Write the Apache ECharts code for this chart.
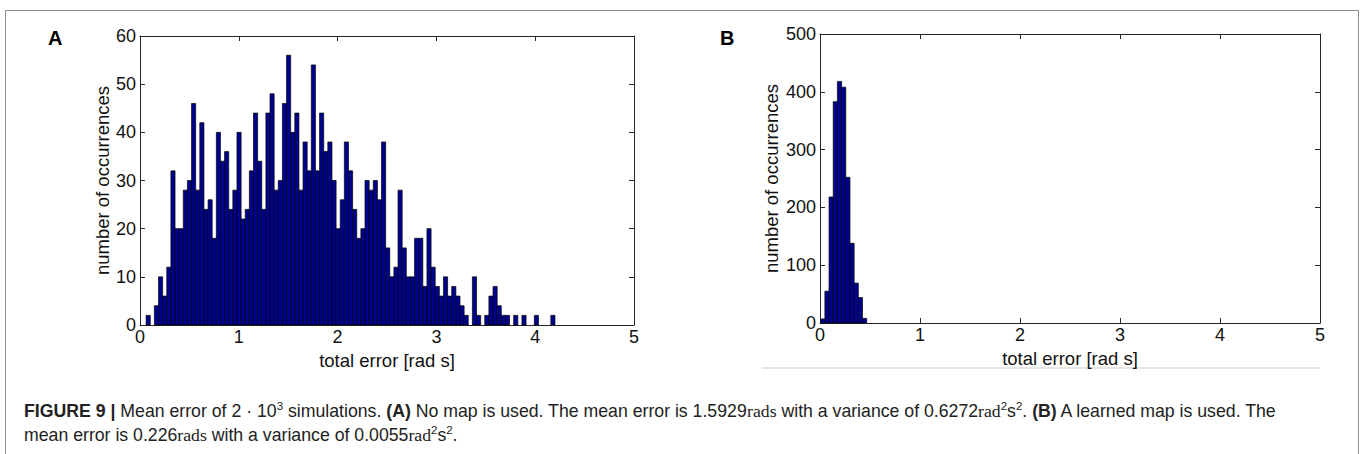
<!DOCTYPE html>
<html><head><meta charset="utf-8">
<script src="https://cdn.jsdelivr.net/npm/echarts@6/dist/echarts.min.js"></script>
<style>html,body{margin:0;padding:0;background:#fff}#c{width:1360px;height:454px}</style>
</head><body><div id="c"></div>
<script>
// Panel A: no map, 99 histogram bins (counts, total 2000)
const countsA = [2,0,4,10,6,12,32,20,20,28, 30,46,28,42,24,26,18,40,34,36,
  24,28,40,22,24,32,44,34,24,44, 48,28,30,46,56,40,44,28,38,32,
  54,32,44,36,38,30,20,26,38,32, 24,18,20,30,28,30,26,38,16,10,
  12,28,16,10,10,18,18,8,20,12, 8,6,10,6,8,6,4,2,0,10,
  2,0,2,6,8,4,2,2,0,2, 0,2,0,0,2,0,0,0,2];
const binStartA = 0.062;   // left edge of first bin [rad s]
const binWidthA = 0.0418;  // bin width [rad s]
// Panel B: learned map
const countsB = [7,55,218,383,418,408,252,138,69,44,8];
const binStartB = 0.007;
const binWidthB = 0.0418;
const xTicks = [0,1,2,3,4,5];
const yTicksA = [0,10,20,30,40,50,60];
const yTicksB = [0,100,200,300,400,500];
const xName = 'total error [rad s]';
const yName = 'number of occurrences';

function binsOf(counts, start, w){
  return counts.map((c,i)=>[start+i*w, start+(i+1)*w, c]);
}
const FONT = 'Liberation Sans';
const AX = '#262626';
function axesX(grid, gap){
  return [{
    type:'value', gridIndex:grid, min:xTicks[0], max:xTicks[xTicks.length-1], interval:1,
    name: xName, nameLocation:'middle', nameGap:gap,
    nameTextStyle:{fontSize:18.5, color:'#111', fontFamily:FONT},
    axisLine:{show:true, onZero:false, lineStyle:{color:AX, width:1}},
    axisTick:{show:true, inside:true, length:5, lineStyle:{color:AX}},
    axisLabel:{fontSize:18, color:'#111', fontFamily:FONT, margin:3},
    splitLine:{show:false}
  },{
    type:'value', gridIndex:grid, position:'top', min:xTicks[0], max:xTicks[xTicks.length-1], interval:1,
    axisLine:{show:true, onZero:false, lineStyle:{color:AX, width:1}},
    axisTick:{show:true, inside:true, length:5, lineStyle:{color:AX}},
    axisLabel:{show:false}, splitLine:{show:false}
  }];
}
function axesY(grid, ticks, gap){
  const mx = ticks[ticks.length-1], iv = ticks[1]-ticks[0];
  return [{
    type:'value', gridIndex:grid, min:0, max:mx, interval:iv,
    name: yName, nameLocation:'middle', nameGap:gap, nameRotate:90,
    nameTextStyle:{fontSize:18.5, color:'#111', fontFamily:FONT},
    axisLine:{show:true, onZero:false, lineStyle:{color:AX, width:1}},
    axisTick:{show:true, inside:true, length:5, lineStyle:{color:AX}},
    axisLabel:{fontSize:18, color:'#111', fontFamily:FONT, margin:4},
    splitLine:{show:false}
  },{
    type:'value', gridIndex:grid, position:'right', min:0, max:mx, interval:iv,
    axisLine:{show:true, onZero:false, lineStyle:{color:AX, width:1}},
    axisTick:{show:true, inside:true, length:5, lineStyle:{color:AX}},
    axisLabel:{show:false}, splitLine:{show:false}
  }];
}
function renderBin(params, api){
  const c = api.value(2);
  if (!c) return null;
  const p0 = api.coord([api.value(0), 0]);
  const p1 = api.coord([api.value(1), c]);
  return {type:'rect', shape:{x:p0[0], y:p1[1], width:p1[0]-p0[0], height:p0[1]-p1[1]},
    style:{fill:'#00008F', stroke:'#000000', lineWidth:0.7}};
}
const chart = echarts.init(document.getElementById('c'), null, {renderer:'svg'});
const CF = 17.7;
const capStyle = {fontSize:CF, fontFamily:FONT, fill:'#222', lineHeight:22,
  rich:{
    b:{fontWeight:'bold', fontSize:CF, fontFamily:FONT, fill:'#222'},
    sup:{fontSize:11.5, fontFamily:FONT, fill:'#222', verticalAlign:'top', lineHeight:22},
    serif:{fontSize:CF, fontFamily:'Liberation Serif', fill:'#222'}
  }};
chart.setOption({
  animation:false,
  grid:[
    {left:140, top:36, width:494, height:289},
    {left:820, top:34, width:500, height:289}
  ],
  xAxis:[...axesX(0, 22), ...axesX(1, 21)],
  yAxis:[...axesY(0, yTicksA, 27), ...axesY(1, yTicksB, 39)],
  series:[
    {type:'custom', xAxisIndex:0, yAxisIndex:0, renderItem:renderBin, encode:{x:[0,1], y:2},
     data:binsOf(countsA, binStartA, binWidthA), silent:true},
    {type:'custom', xAxisIndex:2, yAxisIndex:2, renderItem:renderBin, encode:{x:[0,1], y:2},
     data:binsOf(countsB, binStartB, binWidthB), silent:true}
  ],
  graphic:[
    {type:'rect', left:3, top:8, shape:{x:0,y:0,width:1353,height:460}, silent:true,
     style:{fill:'none', stroke:'#8c8c8c', lineWidth:1}},
    {type:'line', shape:{x1:762, y1:368, x2:1320, y2:368}, silent:true,
     style:{stroke:'#dddddd', lineWidth:1.5}},
    {type:'text', left:48, top:28, style:{text:'A', fontSize:20, fontWeight:'bold', fontFamily:FONT, fill:'#000'}},
    {type:'text', left:720, top:28, style:{text:'B', fontSize:20, fontWeight:'bold', fontFamily:FONT, fill:'#000'}},
    {type:'text', left:24, top:400, style:Object.assign({
      text:'{b|FIGURE 9 |} Mean error of 2 · 10{sup|3} simulations. {b|(A)} No map is used. The mean error is 1.5929{serif|rads} with a variance of 0.6272{serif|rad}{sup|2}s{sup|2}. {b|(B)} A learned map is used. The'}, capStyle)},
    {type:'text', left:24, top:424, style:Object.assign({
      text:'mean error is 0.226{serif|rads} with a variance of 0.0055{serif|rad}{sup|2}s{sup|2}.'}, capStyle)}
  ]
});
</script></body></html>
